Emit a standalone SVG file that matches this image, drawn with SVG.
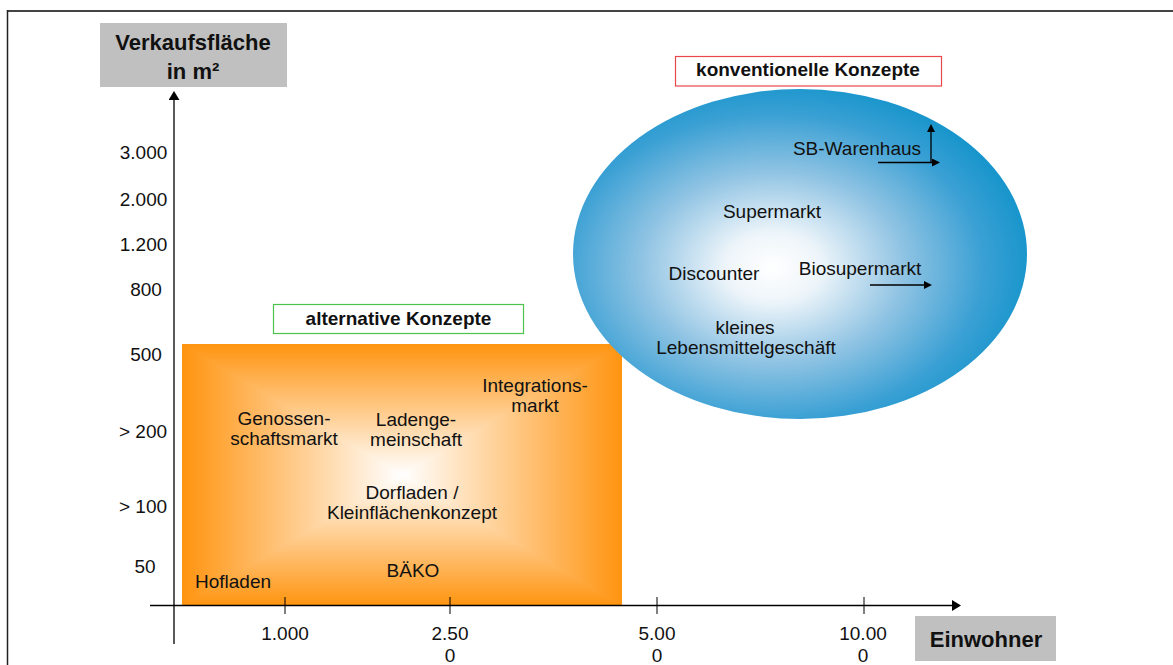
<svg xmlns="http://www.w3.org/2000/svg" width="1173" height="665" viewBox="0 0 1173 665">
<style>
  text { font-family: "Liberation Sans", Arial, sans-serif; fill: #111; }
  .lbl { font-size: 19px; text-anchor: middle; }
  .hd { font-size: 22px; font-weight: bold; text-anchor: middle; }
  .hd2 { font-size: 19px; font-weight: bold; text-anchor: middle; }
  .ax { stroke: #000; stroke-width: 1.3; fill: none; }
  .tick { stroke: #000; stroke-width: 1; }
  .gray { fill: #C0C0C0; }
</style>
<defs>
  <marker id="ah" markerUnits="userSpaceOnUse" markerWidth="10" markerHeight="11" refX="0" refY="5.5" orient="auto">
    <path d="M0,0 L9,5.5 L0,11 z" fill="#000"/>
  </marker>
  <marker id="ahs" markerUnits="userSpaceOnUse" markerWidth="9" markerHeight="8" refX="0" refY="4" orient="auto">
    <path d="M0,0 L8,4 L0,8 z" fill="#000"/>
  </marker>
  <linearGradient id="gv" gradientUnits="userSpaceOnUse" x1="0" y1="344" x2="0" y2="606">
    <stop offset="0" stop-color="#FF9410"/>
    <stop offset="0.5" stop-color="#FFFFFF"/>
    <stop offset="1" stop-color="#FF9410"/>
  </linearGradient>
  <linearGradient id="gh" gradientUnits="userSpaceOnUse" x1="182" y1="0" x2="622" y2="0">
    <stop offset="0" stop-color="#FF9410"/>
    <stop offset="0.5" stop-color="#FFFFFF"/>
    <stop offset="1" stop-color="#FF9410"/>
  </linearGradient>
  <radialGradient id="gb" cx="0.44" cy="0.54" r="0.58" fx="0.44" fy="0.54">
    <stop offset="0" stop-color="#FFFFFF"/>
    <stop offset="0.18" stop-color="#EEF5FA"/>
    <stop offset="0.5" stop-color="#8FC3E3"/>
    <stop offset="0.8" stop-color="#3AA0D4"/>
    <stop offset="1" stop-color="#1494CB"/>
  </radialGradient>
</defs>

<g id="frame">
  <line x1="7" y1="11" x2="1173" y2="11" stroke="#444" stroke-width="2"/>
  <line x1="7.5" y1="10" x2="7.5" y2="665" stroke="#222" stroke-width="1.5"/>
</g>

<g id="alternative-area">
  <g style="isolation:isolate">
    <rect x="182" y="344" width="440" height="262" fill="url(#gv)"/>
    <rect x="182" y="344" width="440" height="262" fill="url(#gh)" style="mix-blend-mode:darken"/>
  </g>
  <text class="lbl"><tspan x="284" y="425">Genossen-</tspan><tspan x="284" y="445">schaftsmarkt</tspan></text>
  <text class="lbl"><tspan x="416" y="426">Ladenge-</tspan><tspan x="416" y="446">meinschaft</tspan></text>
  <text class="lbl"><tspan x="535" y="392">Integrations-</tspan><tspan x="535" y="412">markt</tspan></text>
  <text class="lbl"><tspan x="412" y="499">Dorfladen /</tspan><tspan x="412" y="519">Kleinflächenkonzept</tspan></text>
  <text class="lbl" x="413" y="577">BÄKO</text>
  <text class="lbl" x="233" y="588">Hofladen</text>
</g>

<g id="conventional-area">
  <ellipse cx="800" cy="254" rx="227" ry="165" fill="url(#gb)"/>
  <text class="lbl" x="857" y="155">SB-Warenhaus</text>
  <text class="lbl" x="772" y="218">Supermarkt</text>
  <text class="lbl" x="714" y="280">Discounter</text>
  <text class="lbl" x="860" y="275">Biosupermarkt</text>
  <text class="lbl"><tspan x="745" y="334">kleines</tspan><tspan x="746" y="354">Lebensmittelgeschäft</tspan></text>
</g>

<g id="label-alternative">
  <rect x="273.5" y="304.5" width="250" height="29" fill="#FFFFFF" stroke="#4CC44C" stroke-width="1.2"/>
  <text class="hd2" x="398.5" y="325">alternative Konzepte</text>
</g>

<g id="label-conventional">
  <rect x="675.5" y="56.5" width="266" height="29.5" fill="#FFFFFF" stroke="#E8474B" stroke-width="1.2"/>
  <text class="hd2" x="808" y="76">konventionelle Konzepte</text>
</g>

<g id="y-title">
  <rect class="gray" x="100" y="23" width="187" height="64"/>
  <text class="hd"><tspan x="193" y="50">Verkaufsfläche</tspan><tspan x="193" y="79">in m²</tspan></text>
</g>

<g id="x-title">
  <rect class="gray" x="915" y="616" width="141" height="45"/>
  <text class="hd" x="986" y="647">Einwohner</text>
</g>

<g id="connectors">
  <line class="ax" x1="174" y1="644" x2="174" y2="100" marker-end="url(#ah)"/>
  <line class="ax" x1="150" y1="605.5" x2="952" y2="605.5" marker-end="url(#ah)"/>
  <line class="tick" x1="285" y1="597" x2="285" y2="614"/>
  <line class="tick" x1="450" y1="597" x2="450" y2="614"/>
  <line class="tick" x1="657" y1="597" x2="657" y2="614"/>
  <line class="tick" x1="864" y1="597" x2="864" y2="614"/>
  <line class="ax" x1="931" y1="163" x2="931" y2="132" marker-end="url(#ahs)"/>
  <line class="ax" x1="878" y1="162.5" x2="932" y2="162.5" marker-end="url(#ahs)"/>
  <line class="ax" x1="870" y1="285" x2="924" y2="285" marker-end="url(#ahs)"/>
</g>

<g id="y-axis-labels">
  <text class="lbl" x="143.5" y="159">3.000</text>
  <text class="lbl" x="143.5" y="206">2.000</text>
  <text class="lbl" x="143.5" y="251">1.200</text>
  <text class="lbl" x="146" y="296">800</text>
  <text class="lbl" x="146" y="361">500</text>
  <text class="lbl" x="143" y="438">&gt; 200</text>
  <text class="lbl" x="143" y="513">&gt; 100</text>
  <text class="lbl" x="145" y="573">50</text>
</g>

<g id="x-axis-labels">
  <text class="lbl" x="285" y="640">1.000</text>
  <text class="lbl"><tspan x="450" y="640">2.50</tspan><tspan x="450" y="662">0</tspan></text>
  <text class="lbl"><tspan x="657" y="640">5.00</tspan><tspan x="657" y="662">0</tspan></text>
  <text class="lbl"><tspan x="863" y="640">10.00</tspan><tspan x="863" y="662">0</tspan></text>
</g>
</svg>
